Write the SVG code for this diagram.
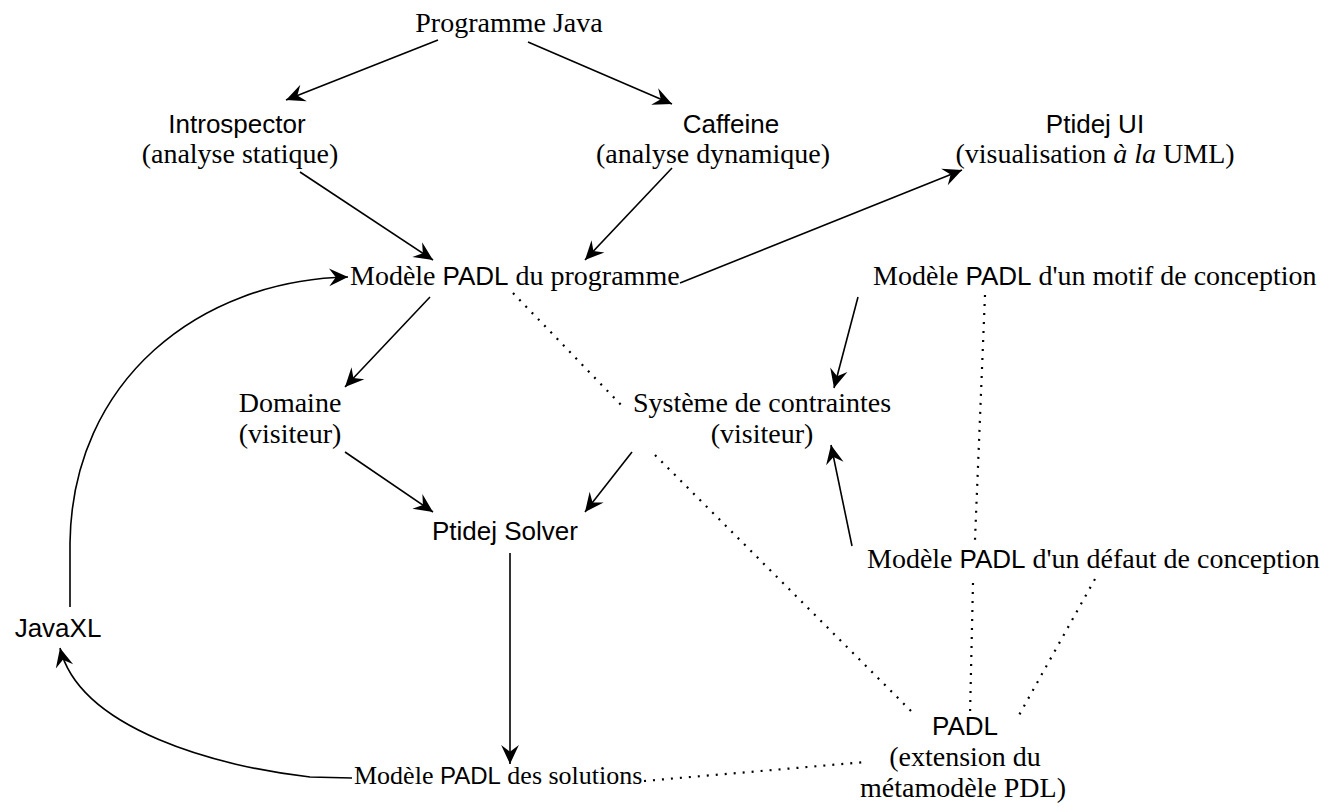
<svg xmlns="http://www.w3.org/2000/svg" width="1332" height="812" viewBox="0 0 1332 812">
<style>
.s{font-family:"Liberation Serif","Times New Roman",serif;font-size:28px;fill:#000}
.a{font-family:"Liberation Sans",Arial,sans-serif;font-size:26px;fill:#000}
.sm{font-size:26px}
.sma{font-size:24px}
.l{stroke:#000;stroke-width:1.6;fill:none}
.d{stroke:#000;stroke-width:2.2;fill:none;stroke-dasharray:2 7;stroke-linecap:butt}
</style>
<defs>
<marker id="ah" markerUnits="userSpaceOnUse" markerWidth="24" markerHeight="20" refX="0" refY="0" viewBox="-18 -9 20 18" orient="auto">
<path d="M0,0 L-17,-8 L-11,0 L-17,8 Z" fill="#000"/>
</marker>
</defs>
<rect width="1332" height="812" fill="#fff"/>
<g id="connectors">
<line class="l" x1="438" y1="40" x2="286" y2="100" marker-end="url(#ah)"/>
<line class="l" x1="528" y1="42" x2="672" y2="104" marker-end="url(#ah)"/>
<line class="l" x1="300" y1="172" x2="433" y2="260" marker-end="url(#ah)"/>
<line class="l" x1="672" y1="168" x2="585" y2="260" marker-end="url(#ah)"/>
<line class="l" x1="680" y1="283" x2="962" y2="170" marker-end="url(#ah)"/>
<line class="l" x1="430" y1="297" x2="345" y2="387" marker-end="url(#ah)"/>
<line class="l" x1="345" y1="452" x2="433" y2="512" marker-end="url(#ah)"/>
<line class="l" x1="632" y1="452" x2="585" y2="512" marker-end="url(#ah)"/>
<line class="l" x1="858" y1="297" x2="834" y2="388" marker-end="url(#ah)"/>
<line class="l" x1="852" y1="546" x2="831" y2="445" marker-end="url(#ah)"/>
<line class="l" x1="510" y1="553" x2="510" y2="764" marker-end="url(#ah)"/>
<path class="l" d="M352,778 L310,777 C220,767 80,730 60,648" marker-end="url(#ah)"/>
<path class="l" d="M70,607 L70,543 C72,380 200,280 348,277" marker-end="url(#ah)"/>
<line class="d" x1="513" y1="293" x2="623" y2="407"/>
<line class="d" x1="655" y1="455" x2="912" y2="712"/>
<line class="d" x1="985" y1="295" x2="975" y2="540"/>
<line class="d" x1="973" y1="583" x2="970" y2="715"/>
<line class="d" x1="1095" y1="579" x2="1018" y2="717"/>
<line class="d" x1="644" y1="781" x2="866" y2="762"/>
</g>
<g id="programme-java"><text class="s" x="509" y="32" text-anchor="middle">Programme Java</text></g>
<g id="introspector"><text class="a" x="237" y="133" text-anchor="middle">Introspector</text><text class="s" x="240" y="163" text-anchor="middle">(analyse statique)</text></g>
<g id="caffeine"><text class="a" x="731" y="133" text-anchor="middle">Caffeine</text><text class="s" x="713" y="163" text-anchor="middle">(analyse dynamique)</text></g>
<g id="ptidej-ui"><text class="a" x="1095" y="133" text-anchor="middle">Ptidej UI</text><text class="s" x="1095" y="163" text-anchor="middle">(visualisation <tspan font-style="italic">à la</tspan> UML)</text></g>
<g id="modele-programme"><text class="s" x="350" y="285">Modèle <tspan class="a">PADL</tspan> du programme</text></g>
<g id="modele-motif"><text class="s" x="873" y="285">Modèle <tspan class="a">PADL</tspan> d'un motif de conception</text></g>
<g id="domaine"><text class="s" x="290" y="412" text-anchor="middle">Domaine</text><text class="s" x="290" y="443" text-anchor="middle">(visiteur)</text></g>
<g id="systeme"><text class="s" x="762" y="412" text-anchor="middle">Système de contraintes</text><text class="s" x="762" y="443" text-anchor="middle">(visiteur)</text></g>
<g id="ptidej-solver"><text class="a" x="505" y="540" text-anchor="middle">Ptidej Solver</text></g>
<g id="modele-defaut"><text class="s" x="867" y="568">Modèle <tspan class="a">PADL</tspan> d'un défaut de conception</text></g>
<g id="javaxl"><text class="a" x="58" y="637" text-anchor="middle">JavaXL</text></g>
<g id="modele-solutions"><text class="s sm" x="354" y="784">Modèle <tspan class="a sma">PADL</tspan> des solutions</text></g>
<g id="padl"><text class="a" x="965" y="735" text-anchor="middle">PADL</text><text class="s" x="965" y="766" text-anchor="middle">(extension du</text><text class="s" x="963" y="797" text-anchor="middle">métamodèle PDL)</text></g>
</svg>
